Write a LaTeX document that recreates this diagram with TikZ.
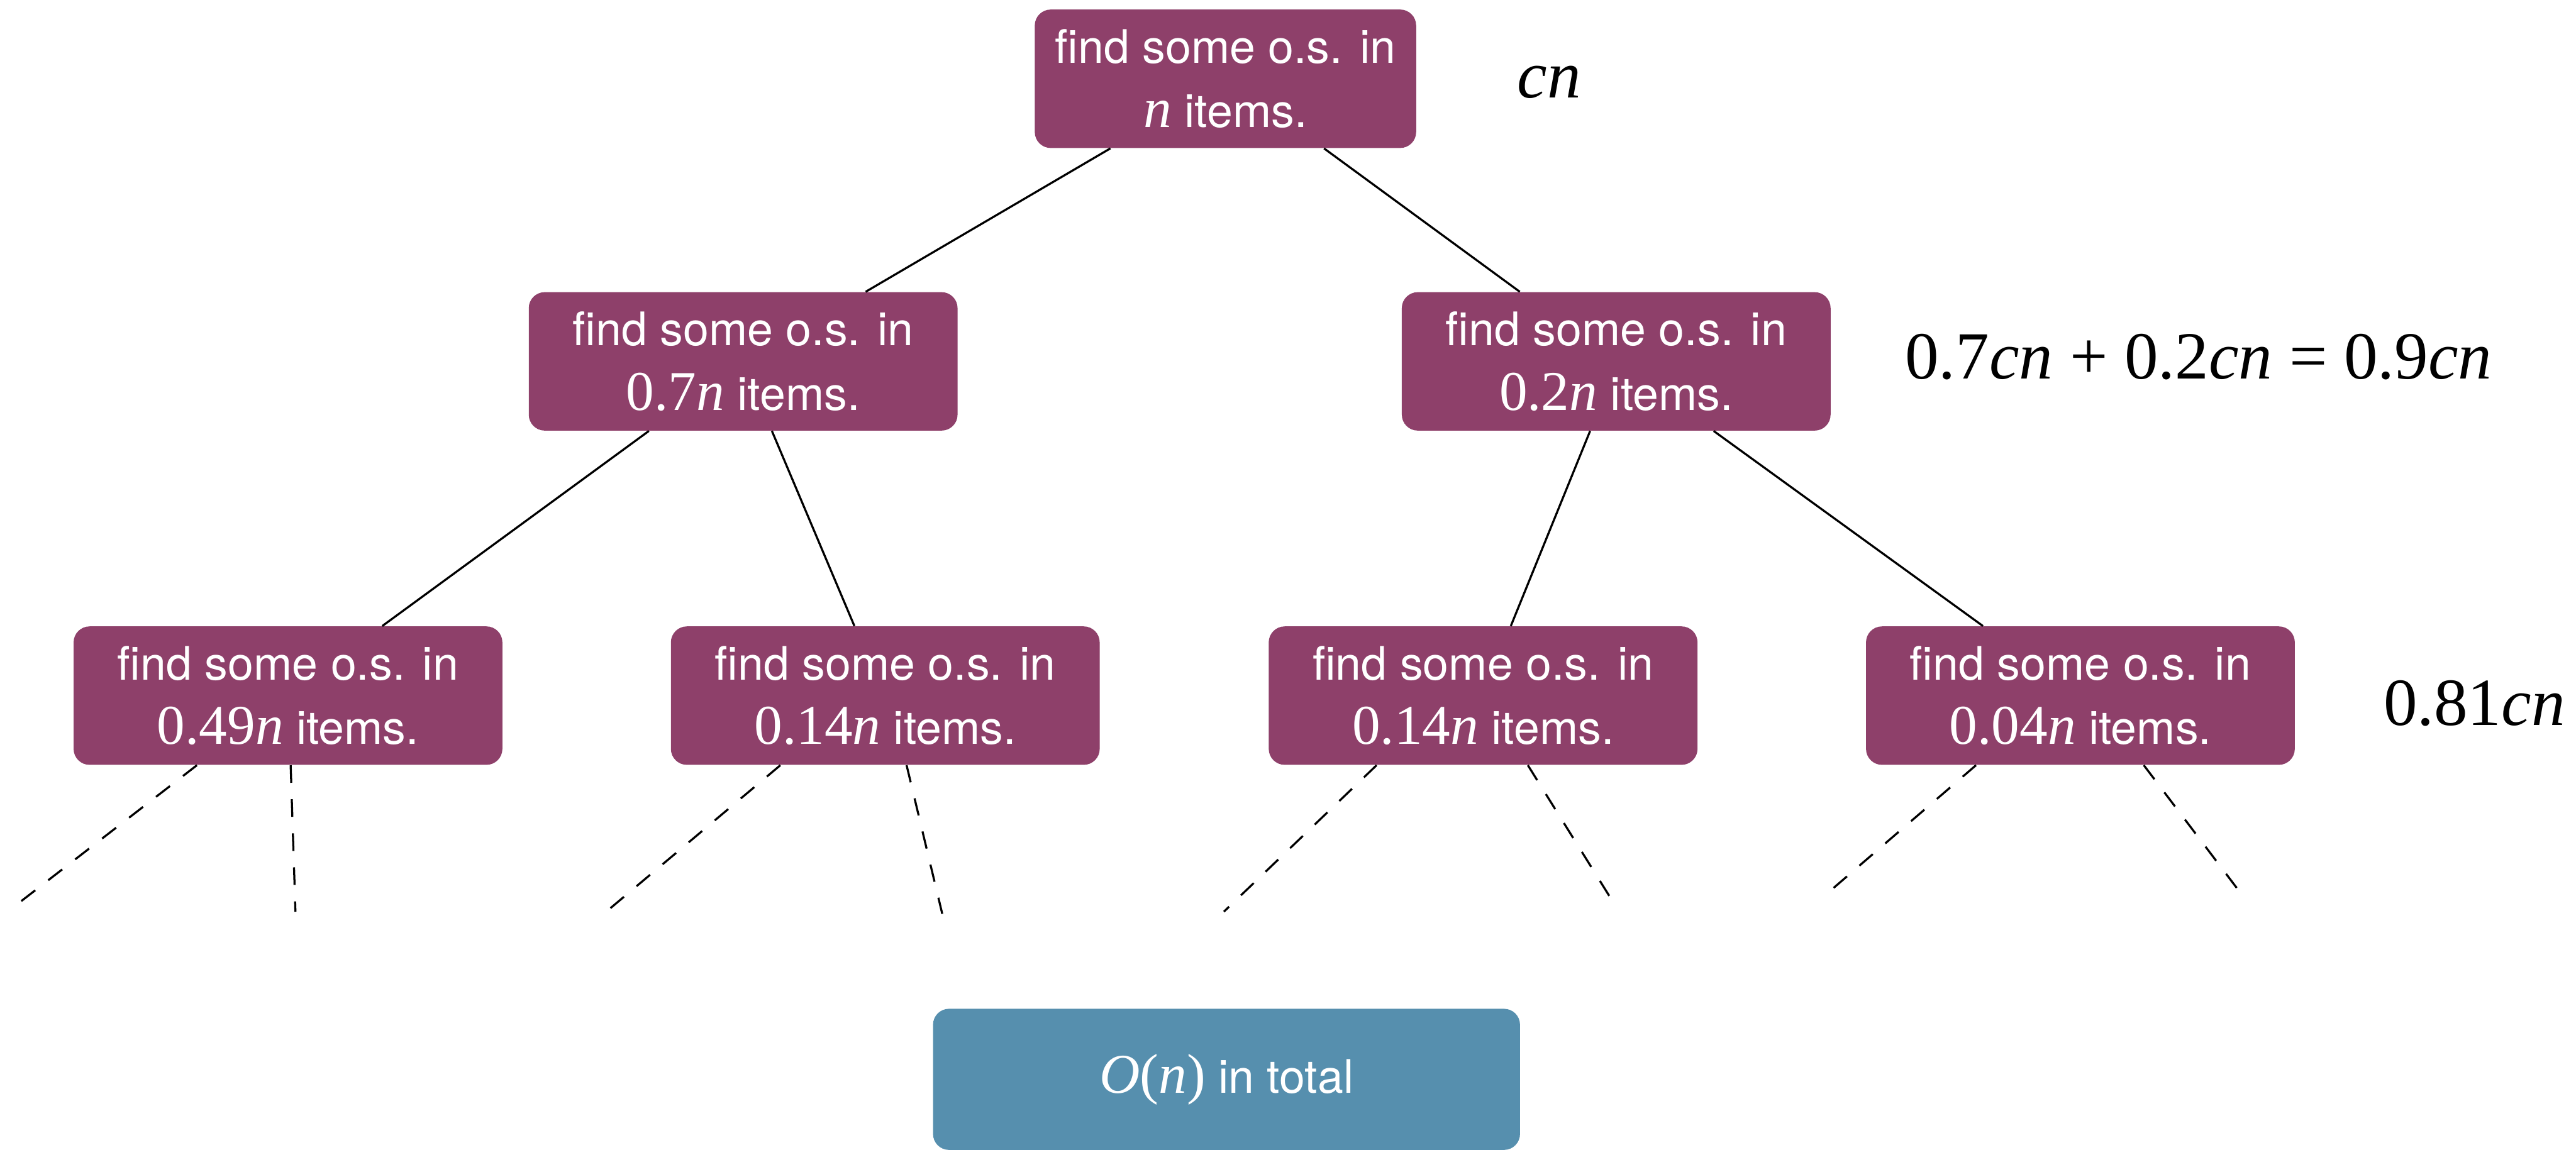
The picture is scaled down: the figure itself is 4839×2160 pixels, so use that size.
\documentclass[tikz,border=0pt]{standalone}
\usepackage{fontspec}
\setmainfont{TeX Gyre Heros}
\newfontfamily\serifmath{Liberation Serif}
\usetikzlibrary{calc,positioning}
\definecolor{osplum}{RGB}{142,64,106}
\definecolor{osblue}{RGB}{86,143,174}
\newcommand{\mth}[1]{{\serifmath\fontsize{30}{34}\selectfont #1}}
\newcommand{\vi}[1]{\textit{#1}}
\tikzset{
    subproblem/.style={
    rectangle,rounded corners=0.3cm,fill=osplum,text=white,align=center,
    font=\fontsize{24.7}{34.5}\selectfont,minimum width=8.05cm,minimum height=2.6cm,inner sep=0pt
    },
    summary/.style={
    rectangle,rounded corners=0.3cm,fill=osblue,text=white,align=center,
    font=\fontsize{24.7}{34.5}\selectfont,minimum width=11.02cm,minimum height=2.65cm,inner sep=0pt
    },
    cost/.style={
    inner sep=0pt,font=\serifmath\fontsize{36}{40}\selectfont
    },
    split/.style={
    line width=1.1pt
    },
    more/.style={
    line width=1.1pt,dash pattern=on 9.4pt off 8.8pt
    },
}
\begin{document}
\begin{tikzpicture}[x=0.01cm, y=-0.01cm]
  \useasboundingbox (0,0) rectangle (4839,2160);
  % the recursion tree
  \node[subproblem,minimum width=7.16cm] (t) at (2302,148) {find some o.s. in\\\mth{\vi{n}} items.};
  \node[subproblem] (l) at (1396,679) {find some o.s. in\\\mth{0.7\vi{n}} items.};
  \node[subproblem] (r) at (3036,679) {find some o.s. in\\\mth{0.2\vi{n}} items.};
  \node[subproblem] (ll) at (541,1307) {find some o.s. in\\\mth{0.49\vi{n}} items.};
  \node[subproblem] (lr) at (1663,1307) {find some o.s. in\\\mth{0.14\vi{n}} items.};
  \node[subproblem] (rl) at (2786,1307) {find some o.s. in\\\mth{0.14\vi{n}} items.};
  \node[subproblem] (rr) at (3908,1307) {find some o.s. in\\\mth{0.04\vi{n}} items.};
  \node[summary] (sum) at (2304,2028) {\mth{\vi{O}(\vi{n})} in total};

  % work per level
  \node[cost] (c0) at (2910,154) {\vi{cn}};
  \node[cost] (c1) at (4130,670) {0.7\vi{cn} + 0.2\vi{cn} = 0.9\vi{cn}};
  \node[cost] (c2) at (4648,1321) {0.81\vi{cn}};

  \path[split]
    ([xshift=-2.16cm]t.south) edge ([xshift=2.30cm]l.north)
    ([xshift=1.85cm]t.south) edge ([xshift=-1.81cm]r.north)
    ([xshift=-1.77cm]l.south) edge ([xshift=1.77cm]ll.north)
    ([xshift=0.54cm]l.south) edge ([xshift=-0.58cm]lr.north)
    ([xshift=-0.49cm]r.south) edge ([xshift=0.52cm]rl.north)
    ([xshift=1.83cm]r.south) edge ([xshift=-1.83cm]rr.north);

  % deeper levels
  \coordinate (e1) at (31,1700);
  \coordinate (e2) at (555,1713);
  \coordinate (e3) at (1140,1712);
  \coordinate (e4) at (1770,1717);
  \coordinate (e5) at (2299,1713);
  \coordinate (e6) at (3024,1685);
  \coordinate (e7) at (3425,1685);
  \coordinate (e8) at (4212,1682);
  \path[more]
    ([xshift=-1.71cm]ll.south) edge (e1)
    ([xshift=0.05cm]ll.south) edge (e2)
    ([xshift=-1.97cm]lr.south) edge (e3)
    ([xshift=0.40cm]lr.south) edge (e4)
    ([xshift=-2.00cm]rl.south) edge (e5)
    ([xshift=0.84cm]rl.south) edge (e6)
    ([xshift=-1.96cm]rr.south) edge (e7)
    ([xshift=1.19cm]rr.south) edge (e8);
\end{tikzpicture}
\end{document}
